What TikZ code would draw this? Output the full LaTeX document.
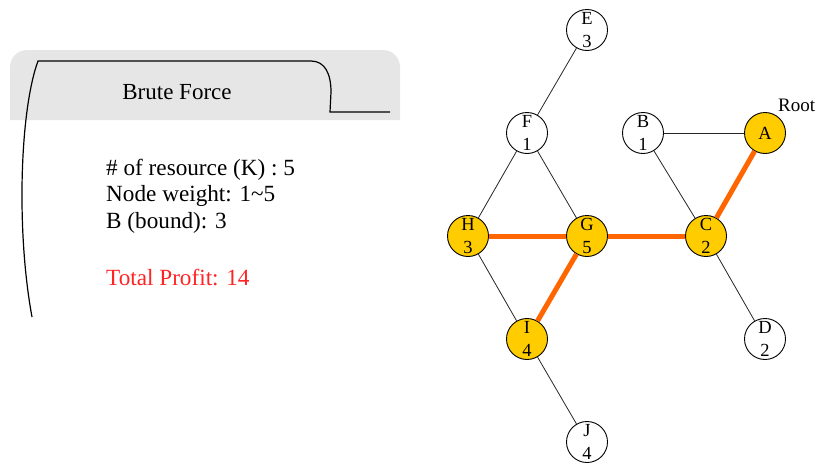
\documentclass[tikz,border=0pt]{standalone}
\usepackage{fontspec}
\setmainfont{Liberation Serif}
\definecolor{boxgray}{RGB}{230,230,230}
\definecolor{nodegold}{RGB}{255,204,0}
\definecolor{pathorange}{RGB}{255,102,0}
\definecolor{profitred}{RGB}{255,35,35}
\tikzset{
  gnode/.style={circle, draw=black, line width=0.9pt, minimum size=41pt, inner sep=0pt,
    align=center, font=\fontsize{18.5}{22.5}\selectfont},
  gsel/.style={gnode, fill=nodegold},
  gplain/.style={gnode, fill=white},
  edge/.style={draw=black!85, line width=0.8pt},
  hot/.style={draw=pathorange, line width=5pt},
  bodytext/.style={anchor=base west, inner sep=0pt, font=\fontsize{23.2}{27}\selectfont},
  frameline/.style={draw=black, line width=1.2pt}
}
\begin{document}
\begin{tikzpicture}[x=1pt, y=-1pt]
\useasboundingbox (0,0) rectangle (819,463);
% left panel
\fill[boxgray] (10,120) [rounded corners=17pt] -- (10,50) -- (400,50) [sharp corners] -- (400,120) -- cycle;
\draw[frameline] (32,317) .. controls (16,230) and (20,110) .. (38,61) -- (311,61)
  .. controls (325,61) and (331,74) .. (331,92) -- (330,112) -- (390,112);
\node[anchor=base, inner sep=0pt, font=\fontsize{23}{27}\selectfont] (title) at (177,99.3) {Brute Force};
\node[bodytext] (l1) at (106,175) {\# of resource (K) : 5};
\node[bodytext] (l2) at (106,201.7) {Node weight: 1\textasciitilde 5};
\node[bodytext] (l3) at (106,228.3) {B (bound): 3};
\node[bodytext, text=profitred] (l4) at (106,285) {Total Profit: 14};
% graph nodes
\node[gplain] (E) at (587,30) {E\\3};
\node[gplain] (F) at (527,133) {F\\1};
\node[gplain] (B) at (643,133) {B\\1};
\node[gsel] (A) at (765,133) {A};
\node[gsel] (H) at (468,236) {H\\3};
\node[gsel] (G) at (587,236) {G\\5};
\node[gsel] (C) at (706,236) {C\\2};
\node[gsel] (I) at (527,339) {I\\4};
\node[gplain] (D) at (765,339) {D\\2};
\node[gplain] (J) at (587,442) {J\\4};
\node[anchor=base west, inner sep=0pt, font=\fontsize{19}{22}\selectfont] (root) at (778,111.7) {Root};
% edges
\draw[edge] (E) -- (F);
\draw[edge] (F) -- (H);
\draw[edge] (F) -- (G);
\draw[edge] (B) -- (A);
\draw[edge] (B) -- (C);
\draw[edge] (H) -- (I);
\draw[edge] (C) -- (D);
\draw[edge] (I) -- (J);
\draw[hot] (A) -- (C);
\draw[hot] (H) -- (G);
\draw[hot] (G) -- (C);
\draw[hot] (G) -- (I);
\end{tikzpicture}
\end{document}
